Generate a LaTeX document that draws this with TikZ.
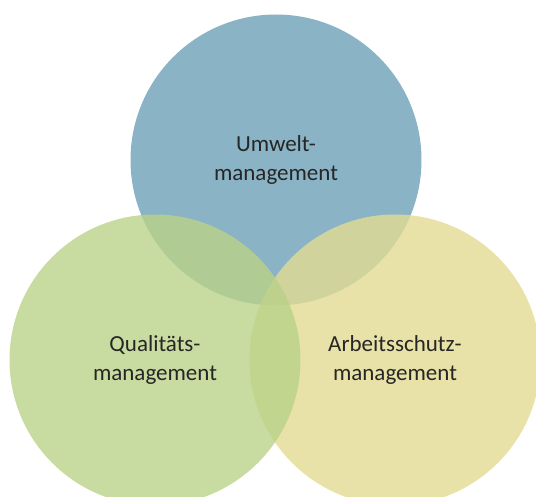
\documentclass[tikz,border=0pt]{standalone}
\usepackage{fontspec}
\setmainfont{Carlito}
\definecolor{umweltblue}{RGB}{109,161,184}
\definecolor{arbeityellow}{RGB}{226,219,146}
\definecolor{qualigreen}{RGB}{186,210,136}
\definecolor{labelgray}{RGB}{38,38,38}
\begin{document}
\begin{tikzpicture}[x=1pt, y=-1pt,
          font=\fontsize{23}{28.5}\selectfont,
          area/.style={circle, inner sep=0pt, minimum size=291pt, fill opacity=0.8,
                       text opacity=1, text=labelgray, align=center},
          umw/.style={area, fill=umweltblue},
          arb/.style={area, fill=arbeityellow},
          qua/.style={area, fill=qualigreen}]
        \useasboundingbox (0,0) rectangle (536,497);
        \node[umw] (u) at (276,160) {Umwelt-\\management};
        \node[arb] (a) at (395,360) {Arbeitsschutz-\\management};
        \node[qua] (q) at (155,360) {Qualitäts-\\management};
      \end{tikzpicture}
\end{document}
